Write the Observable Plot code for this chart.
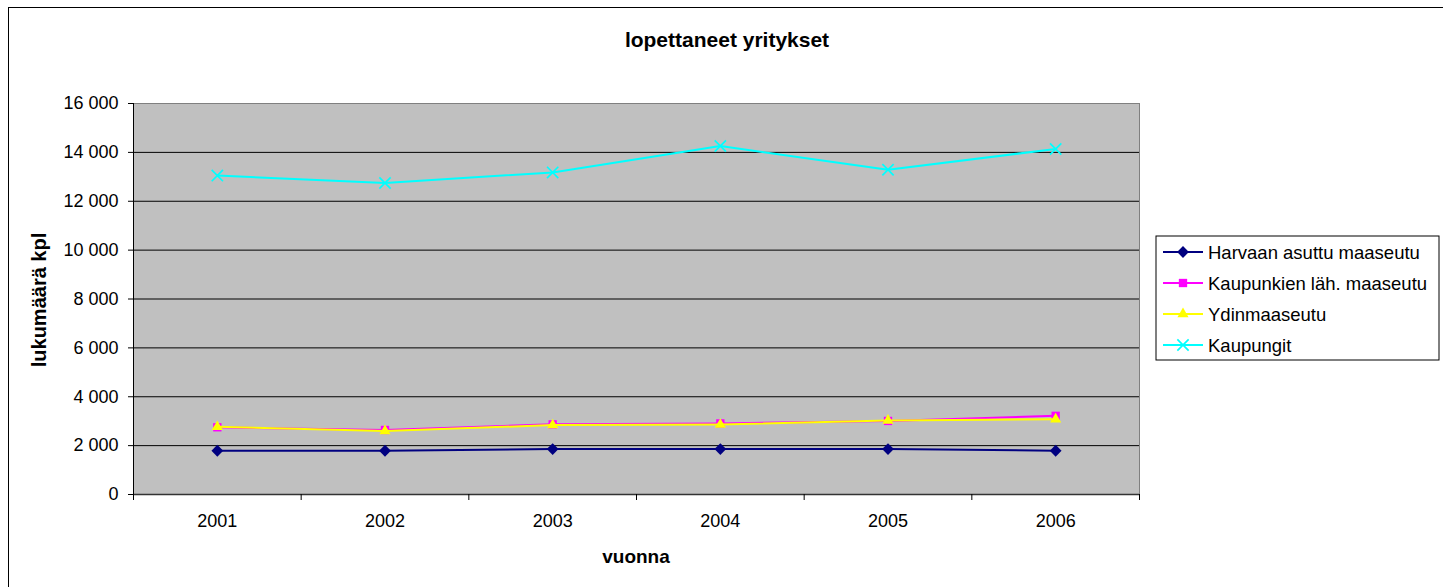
<!DOCTYPE html>
<html>
<head>
<meta charset="utf-8">
<script src="https://cdn.jsdelivr.net/npm/d3@7"></script>
<script src="https://cdn.jsdelivr.net/npm/@observablehq/plot@0.6"></script>
<style>
  html, body { margin: 0; padding: 0; background: white; }
  #wrap { position: relative; width: 1443px; height: 587px; overflow: hidden; background: white; }
  #wrap > svg { position: absolute; left: 0; top: 0; }
  #border { position: absolute; left: 8px; top: 7px; width: 1450px; height: 620px; border: 1px solid black; box-sizing: border-box; pointer-events: none; }
</style>
</head>
<body>
<div id="wrap"></div>
<script>
// ---- data ----
const years = [2001, 2002, 2003, 2004, 2005, 2006];
const seriesNames = ["Harvaan asuttu maaseutu", "Kaupunkien läh. maaseutu", "Ydinmaaseutu", "Kaupungit"];
const harvaan = [1790, 1790, 1860, 1860, 1860, 1790];
const kaupunkienLah = [2750, 2640, 2870, 2910, 3010, 3220];
const ydinmaaseutu = [2770, 2600, 2840, 2860, 3030, 3080];
const kaupungit = [13050, 12750, 13180, 14260, 13290, 14140];
const yTicks = [0, 2000, 4000, 6000, 8000, 10000, 12000, 14000, 16000];
const title = "lopettaneet yritykset";
const xTitle = "vuonna";
const yTitle = "lukumäärä kpl";

const seriesValues = [harvaan, kaupunkienLah, ydinmaaseutu, kaupungit];
const colors = ["#000080", "#FF00FF", "#FFFF00", "#00FFFF"];
const symbols = ["diamond2", "square2", "triangle2", "times"];

const rows = seriesNames.map((name, i) => years.map((year, j) => ({ series: name, year, value: seriesValues[i][j] })));

const W = 1443, H = 587;
const fmt = d3.formatLocale({ decimal: ",", thousands: "\u00a0", grouping: [3] }).format(",");
const xDomain = [d3.min(years) - 0.5, d3.max(years) + 0.5];
const boundaries = years.map(y => y - 0.5).concat([d3.max(years) + 0.5]);
const font = "'Liberation Sans', Arial, sans-serif";
const markR = s => s === "times" ? 5.2 : 5.3;

const seriesMarks = rows.flatMap((data, i) => {
  const isStroke = symbols[i] === "times";
  return [
    Plot.line(data, { x: "year", y: "value", stroke: colors[i], strokeWidth: 2 }),
    Plot.dot(data, {
      x: "year", y: "value", symbol: symbols[i], r: markR(symbols[i]),
      fill: isStroke ? "none" : colors[i],
      stroke: isStroke ? colors[i] : "none",
      strokeWidth: isStroke ? 1.7 : 0
    })
  ];
});

const chart = Plot.plot({
  width: W,
  height: H,
  marginLeft: 133,
  marginRight: 304,
  marginTop: 103,
  marginBottom: 93,
  style: { fontFamily: font, fontSize: "18px", color: "black", background: "transparent", overflow: "visible" },
  x: { type: "linear", domain: xDomain },
  y: { domain: [0, 16000] },
  marks: [
    Plot.frame({ fill: "#C0C0C0", stroke: "#808080" }),
    Plot.ruleY(yTicks.filter(d => d > 0 && d < d3.max(yTicks)), { stroke: "black", strokeWidth: 1 }),
    Plot.ruleY([0], { stroke: "#333", strokeWidth: 1.5 }),
    Plot.ruleX([xDomain[0]], { stroke: "black", strokeWidth: 1 }),
    Plot.axisY({ ticks: yTicks, tickSize: 5, tickPadding: 10, tickFormat: fmt, label: null, stroke: "black", fill: "black" }),
    Plot.axisX({ ticks: years, tickSize: 0, tickPadding: 20, tickFormat: d => String(d), label: null, fill: "black" }),
    Plot.axisX({ ticks: boundaries, tickSize: 6, tickFormat: () => "", label: null, stroke: "black" }),
    ...seriesMarks
  ]
});

const wrap = document.getElementById("wrap");
wrap.appendChild(chart);

// ---- overlay: titles and legend ----
const svg = d3.select(wrap).append("svg")
  .attr("width", W).attr("height", H)
  .style("position", "absolute").style("left", 0).style("top", 0)
  .style("font-family", font);

svg.append("text").attr("x", 727).attr("y", 46.5).attr("text-anchor", "middle")
  .attr("font-size", 21).attr("font-weight", "bold").attr("fill", "black").text(title);
svg.append("text").attr("x", 636).attr("y", 563).attr("text-anchor", "middle")
  .attr("font-size", 19).attr("font-weight", "bold").attr("fill", "black").text(xTitle);
svg.append("text").attr("transform", "translate(46,300) rotate(-90)").attr("text-anchor", "middle")
  .attr("font-size", 20).attr("font-weight", "bold").attr("fill", "black").text(yTitle);

const lg = svg.append("g");
lg.append("rect").attr("x", 1156).attr("y", 236).attr("width", 283).attr("height", 124)
  .attr("fill", "white").attr("stroke", "black").attr("stroke-width", 1);
const d3sym = { diamond2: d3.symbolDiamond2, square2: d3.symbolSquare2, triangle2: d3.symbolTriangle2, times: d3.symbolTimes };
seriesNames.forEach((name, i) => {
  const cy = 252 + i * 31;
  lg.append("line").attr("x1", 1163).attr("x2", 1203).attr("y1", cy).attr("y2", cy)
    .attr("stroke", colors[i]).attr("stroke-width", 2);
  const isStroke = symbols[i] === "times";
  const r = markR(symbols[i]);
  lg.append("path").attr("transform", `translate(1183,${cy})`)
    .attr("d", d3.symbol(d3sym[symbols[i]], Math.PI * r * r)())
    .attr("fill", isStroke ? "none" : colors[i])
    .attr("stroke", isStroke ? colors[i] : "none")
    .attr("stroke-width", isStroke ? 1.7 : 0);
  lg.append("text").attr("x", 1208).attr("y", cy + 6.5).attr("font-size", 18.5).attr("fill", "black").text(name);
});

const border = document.createElement("div");
border.id = "border";
wrap.appendChild(border);
</script>
</body>
</html>
